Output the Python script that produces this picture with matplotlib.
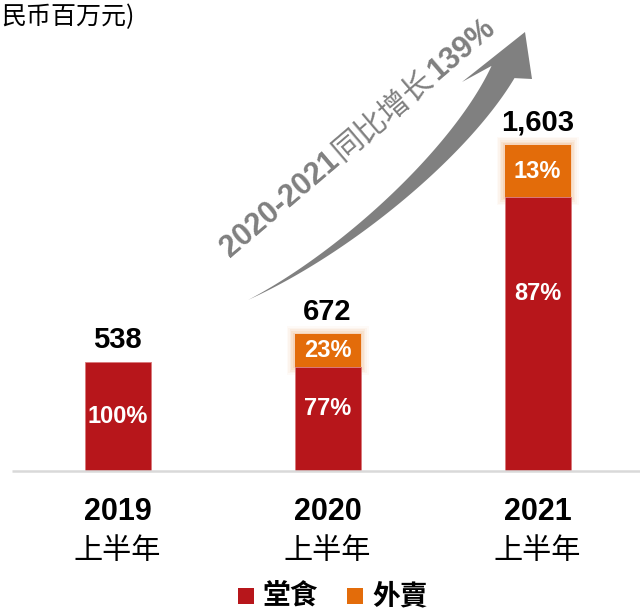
import numpy as np
import matplotlib
matplotlib.use("Agg")
import matplotlib.pyplot as plt
from matplotlib import transforms
from matplotlib.patches import Polygon

plt.rcParams['font.family'] = ['Liberation Sans', 'Noto Sans CJK SC', 'DejaVu Sans']

# ---- data ----
years = ["2019", "2020", "2021"]
period = "上半年"
dine_in = [538, 512, 1345]
delivery = [0, 160, 258]
totals = ["538", "672", "1,603"]
dine_pct = ["100%", "77%", "87%"]
deliv_pct = ["", "23%", "13%"]
legend_labels = ["堂食", "外賣"]
unit_text = "民币百万元)"
growth_parts = ["2020-2021", "同比增长", "139%"]

RED = "#B7161B"
ORANGE = "#E36C0A"
GRAY = "#808080"

W, H = 640, 611
fig = plt.figure(figsize=(W / 100, H / 100), dpi=100)

def fy(p):
    return 1 - p / H

base_px = 471
ax = fig.add_axes([0, fy(base_px), 1, base_px / H])
ax.set_xlim(-117.5 / 210, (W - 117.5) / 210)
ax.set_ylim(0, base_px / 0.2035)
ax.axis("off")

x = np.arange(len(years))
bw = 66 / 210
dine = np.array(dine_in, float)
deliv = np.array(delivery, float)

# glow around orange segments
for i in range(len(x)):
    if deliv[i] > 0:
        for k, a in zip(range(1, 6), [0.10, 0.08, 0.06, 0.04, 0.03]):
            ext = k * 1.6 / 210
            exty = k * 1.6 / 0.2035
            ax.bar(x[i], deliv[i] + 2 * exty, bottom=dine[i] - exty, width=bw + 2 * ext,
                   color=ORANGE, alpha=a, linewidth=0, zorder=1)

ax.bar(x, dine, width=bw, color=RED, edgecolor="#d9797b", linewidth=0.6, zorder=3)
ax.bar(x, deliv, bottom=dine, width=bw, color=ORANGE, linewidth=0, zorder=3)

# baseline
ax.plot([(12 - 117.5) / 210, (W - 117.5) / 210], [0, 0], color="#d9d9d9", lw=1.8,
        zorder=4, clip_on=False, solid_capstyle="butt")

# labels
dine_frac = [0.5, 0.6, 0.65]
for i in range(len(x)):
    top = dine[i] + deliv[i]
    ax.annotate(totals[i], (x[i], top), xytext=(0, 10), textcoords="offset points",
                ha="center", va="baseline", fontsize=21, fontweight="bold", color="black")
    ax.text(x[i], dine[i] * dine_frac[i], dine_pct[i], ha="center", va="center",
            fontsize=17, fontweight="bold", color="white", zorder=5)
    if deliv[i] > 0:
        ax.text(x[i], dine[i] + deliv[i] / 2, deliv_pct[i], ha="center", va="center",
                fontsize=17, fontweight="bold", color="white", zorder=5)

tr = transforms.blended_transform_factory(ax.transData, fig.transFigure)
for i in range(len(x)):
    ax.text(x[i], fy(511.5), years[i], transform=tr, ha="center", va="center",
            fontsize=22, fontweight="bold", color="black")
    ax.text(x[i], fy(551), period, transform=tr, ha="center", va="center",
            fontsize=21, color="black", family=["Noto Sans CJK SC"])

# overlay in pixel coordinates
ov = fig.add_axes([0, 0, 1, 1], zorder=10)
ov.set_xlim(0, W)
ov.set_ylim(H, 0)
ov.axis("off")
ov.patch.set_alpha(0)

# unit text
ov.text(1, 17, unit_text, ha="left", va="center", fontsize=18,
        family=["Noto Sans CJK SC"], color="black")

# legend
for (lx, col, lab, tx) in [(238, RED, legend_labels[0], 262), (347, ORANGE, legend_labels[1], 372)]:
    ov.add_patch(plt.Rectangle((lx, 588), 16, 16, color=col, lw=0))
    ov.text(tx, 596, lab, ha="left", va="center", fontsize=20, fontweight="bold",
            family=["Noto Sans CJK TC"], color="black")

# curved arrow
P0 = np.array([248.0, 300.0])
P3 = np.array([503.0, 72.0])
a0 = np.deg2rad(26)
a1 = np.deg2rad(62)
P1 = P0 + 110 * np.array([np.cos(a0), -np.sin(a0)])
P2 = P3 - 90 * np.array([np.cos(a1), -np.sin(a1)])
u = np.linspace(0, 1, 200)[:, None]
C = (1 - u) ** 3 * P0 + 3 * u * (1 - u) ** 2 * P1 + 3 * u ** 2 * (1 - u) * P2 + u ** 3 * P3
dC = 3 * (1 - u) ** 2 * (P1 - P0) + 6 * u * (1 - u) * (P2 - P1) + 3 * u ** 2 * (P3 - P2)
T = dC / np.linalg.norm(dC, axis=1, keepdims=True)
N = np.column_stack([T[:, 1], -T[:, 0]])
w = 26 * u[:, 0] ** 1.1
left = C - N * (w[:, None] / 2)
right = C + N * (w[:, None] / 2)
if left[-1, 0] > right[-1, 0]:
    left, right = right, left
head = np.array([[462, 82], [525, 32], [532, 79]])
poly = np.vstack([left, head, right[::-1]])
ov.add_patch(Polygon(poly, closed=True, color=GRAY, lw=0))

# rotated growth text
theta = 40.5
renderer = fig.canvas.get_renderer()
styles = [dict(fontweight="bold"), dict(fontweight="normal", family=["Noto Sans CJK SC"]),
          dict(fontweight="bold")]
fs = 22
widths = []
for s, st in zip(growth_parts, styles):
    t = ov.text(0, 0, s, fontsize=fs, **st)
    bb = t.get_window_extent(renderer)
    widths.append(bb.width)
    t.remove()
gap = 2
Wt = sum(widths) + gap * (len(widths) - 1)
d = np.array([np.cos(np.deg2rad(theta)), -np.sin(np.deg2rad(theta))])
center = np.array([358.0, 138.0])
start = center - d * Wt / 2
off = 0
for s, st, wd in zip(growth_parts, styles, widths):
    p = start + d * off
    ov.text(p[0], p[1], s, fontsize=fs, rotation=theta, rotation_mode="anchor",
            ha="left", va="center", color=GRAY, **st)
    off += wd + gap

fig.savefig("out.png", dpi=100)
